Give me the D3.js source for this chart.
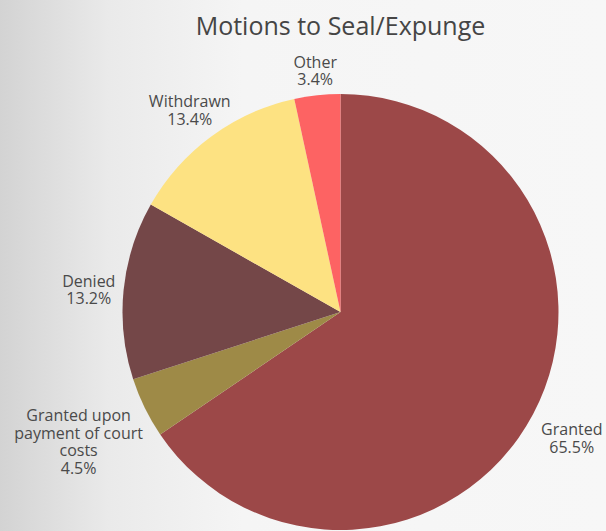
<!DOCTYPE html>
<html>
<head>
<meta charset="utf-8">
<script src="https://cdn.jsdelivr.net/npm/d3@7"></script>
<style>
  html, body { margin: 0; padding: 0; }
  body { width: 606px; height: 531px; overflow: hidden; }
</style>
</head>
<body>
<div id="chart"></div>
<script>
// Motions to Seal/Expunge - pie with outside labels
var categories = ["Granted", "Granted upon payment of court costs", "Denied", "Withdrawn", "Other"];
var percents = [65.5, 4.5, 13.2, 13.4, 3.4];
var colors = ["#9c4848", "#9e8a47", "#744748", "#fde282", "#fd6363"];
// label text lines (wrapped the same way as the original)
var labelLines = [["Granted"], ["Granted upon", "payment of court", "costs"], ["Denied"], ["Withdrawn"], ["Other"]];

var width = 606, height = 531;
var cx = 340.5, cy = 312, radius = 218;
var labelRadius = 256;
// small hand nudges so labels sit where the original put them
var nudge = {"Granted": [5, 7], "Granted upon payment of court costs": [-32, 18], "Denied": [3, 4], "Withdrawn": [1, 5], "Other": [2, 14]};

var svg = d3.select("#chart").append("svg")
    .attr("width", width).attr("height", height);

var grad = svg.append("defs").append("linearGradient")
    .attr("id", "bg").attr("x1", "0").attr("x2", "1").attr("y1", "0").attr("y2", "0");
grad.append("stop").attr("offset", "0").attr("stop-color", "#d3d3d3");
grad.append("stop").attr("offset", "0.18").attr("stop-color", "#eaeaea");
grad.append("stop").attr("offset", "0.4").attr("stop-color", "#f5f5f5");
grad.append("stop").attr("offset", "1").attr("stop-color", "#f7f7f7");

svg.append("rect").attr("width", width).attr("height", height).attr("fill", "url(#bg)");

svg.append("text")
    .attr("x", cx).attr("y", 35)
    .attr("text-anchor", "middle")
    .attr("font-family", "Open Sans")
    .attr("font-size", 25)
    .attr("fill", "#454545")
    .text("Motions to Seal/Expunge");

var data = categories.map(function(c, i) { return {name: c, value: percents[i], color: colors[i], lines: labelLines[i]}; });

var pie = d3.pie().sort(null).value(function(d) { return d.value; });
var arc = d3.arc().innerRadius(0).outerRadius(radius);
var labelArc = d3.arc().innerRadius(labelRadius).outerRadius(labelRadius);

var g = svg.append("g").attr("transform", "translate(" + cx + "," + cy + ")");

g.selectAll("path.slice")
    .data(pie(data))
    .enter().append("path")
    .attr("class", "slice")
    .attr("d", arc)
    .attr("fill", function(d) { return d.data.color; });

var lineH = 17.5;
g.selectAll("text.label")
    .data(pie(data))
    .enter().append("text")
    .attr("class", "label")
    .attr("text-anchor", "middle")
    .attr("font-family", "Open Sans")
    .attr("font-size", 16)
    .attr("fill", "#4a4a4a")
    .each(function(d) {
        var c = labelArc.centroid(d);
        var n = nudge[d.data.name] || [0, 0];
        var lines = d.data.lines.concat([d.data.value.toFixed(1) + "%"]);
        var x = c[0] + n[0];
        var y0 = c[1] + n[1] - (lines.length - 1) * lineH / 2 + 5;
        var t = d3.select(this);
        lines.forEach(function(l, i) {
            t.append("tspan").attr("x", x).attr("y", y0 + i * lineH).text(l);
        });
    });
</script>
</body>
</html>
